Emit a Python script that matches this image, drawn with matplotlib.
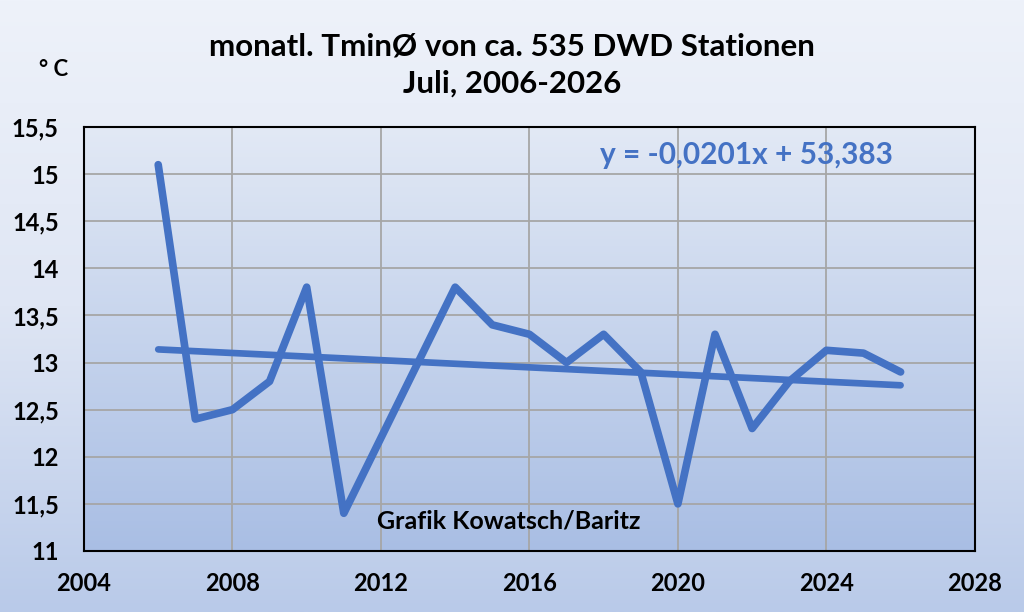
import numpy as np
import matplotlib
matplotlib.use("Agg")
import matplotlib.pyplot as plt
from matplotlib.colors import LinearSegmentedColormap
from matplotlib.ticker import FuncFormatter, MultipleLocator

years = [2006, 2007, 2008, 2009, 2010, 2011, 2012, 2013, 2014, 2015, 2016,
         2017, 2018, 2019, 2020, 2021, 2022, 2023, 2024, 2025, 2026]
tmin = [15.1, 12.4, 12.5, 12.8, 13.8, 11.4, 12.2, 13.0, 13.8, 13.4, 13.3,
        13.0, 13.3, 12.9, 11.5, 13.3, 12.3, 12.8, 13.13, 13.1, 12.9]
title = "monatl. TminØ von ca. 535 DWD Stationen\nJuli, 2006-2026"
equation = "y = -0,0201x + 53,383"
credit = "Grafik Kowatsch/Baritz"
ylabel = "° C"

plt.rcParams['font.family'] = ['Lato', 'DejaVu Sans']
blue = "#4472C4"

fig = plt.figure(figsize=(10.24, 6.12), dpi=100)

# figure background gradient
bg = fig.add_axes([0, 0, 1, 1], zorder=-10)
bg.set_axis_off()
cm_fig = LinearSegmentedColormap.from_list("f", ["#eef2fa", "#dfe6f4", "#b9cae9"])
bg.imshow(np.linspace(0, 1, 256).reshape(-1, 1), aspect='auto', cmap=cm_fig,
          extent=[0, 1, 0, 1], origin='upper')

ax = fig.add_axes([0.082, 0.0997, 0.870, 0.6928])
cm_ax = LinearSegmentedColormap.from_list("a", ["#e2e9f5", "#a9bee4"])
ax.imshow(np.linspace(0, 1, 256).reshape(-1, 1), aspect='auto', cmap=cm_ax,
          extent=[0, 1, 0, 1], origin='upper', transform=ax.transAxes, zorder=0)

x = np.array(years, dtype=float)
y = np.array(tmin)
ax.plot(x, y, color=blue, lw=5.5, solid_capstyle='round', solid_joinstyle='round', zorder=3)
k, d = np.polyfit(x, y, 1)
ax.plot([x[0], x[-1]], [k * x[0] + d, k * x[-1] + d], color=blue, lw=4.8,
        solid_capstyle='round', zorder=3)

ax.set_xlim(2004, 2028)
ax.set_ylim(11, 15.5)
ax.xaxis.set_major_locator(MultipleLocator(4))
ax.yaxis.set_major_locator(MultipleLocator(0.5))
ax.yaxis.set_major_formatter(FuncFormatter(lambda v, p: (f"{v:g}").replace('.', ',')))
ax.grid(True, color="#a6a6a6", lw=1.3, zorder=1)
ax.set_axisbelow(False)
for sp in ax.spines.values():
    sp.set_color('black')
    sp.set_linewidth(1.5)
    sp.set_zorder(4)
ax.tick_params(length=0, labelsize=17)
for lab in ax.get_xticklabels() + ax.get_yticklabels():
    lab.set_fontweight('bold')
ax.tick_params(axis='x', pad=15)
ax.tick_params(axis='y', pad=18)

fig.text(0.500, 0.894, title, ha='center', va='center', fontsize=22.5,
         fontweight='bold', linespacing=1.38)
fig.text(0.052, 0.886, ylabel, ha='center', va='center', fontsize=16, fontweight='bold')
ax.text(0.744, 0.934, equation, transform=ax.transAxes, ha='center', va='center',
        fontsize=21.5, fontweight='bold', color=blue)
ax.text(0.477, 0.071, credit, transform=ax.transAxes, ha='center', va='center',
        fontsize=18, fontweight='bold', color='black', zorder=5)

fig.savefig("out.png", dpi=100)
